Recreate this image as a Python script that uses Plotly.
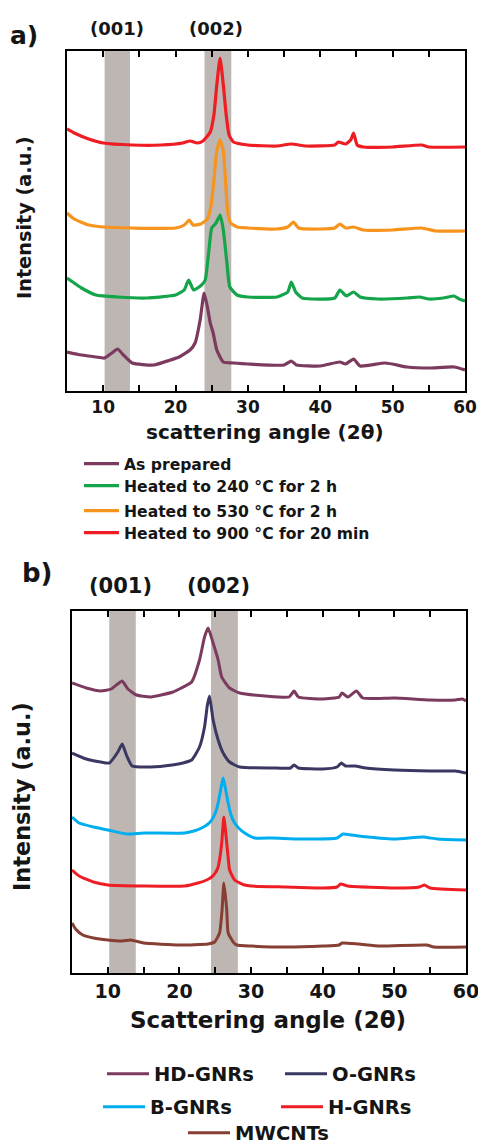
import plotly.graph_objects as go

# ---------------- data: panel a ----------------
a_names = ["As prepared", "Heated to 240 °C for 2 h", "Heated to 530 °C for 2 h", "Heated to 900 °C for 20 min"]
a_colors = ["#7B3A5E", "#14A54B", "#F7941E", "#EE1D23"]

a_prep_x = [5, 7, 9, 10.2, 11.2, 12, 12.8, 14, 17, 19.3, 20.5, 22.0, 22.7, 23.4, 23.95, 24.4, 24.8, 25.2, 25.7, 26.6, 28, 30, 35, 36, 36.7, 40, 42.7, 43.5, 44.6, 45.5, 49, 52, 55, 58.5, 60]
a_prep_y = [39, 36, 34, 33, 38, 42, 36, 28, 26, 31, 34, 41, 48, 71, 98, 84, 68, 58, 41, 29, 28, 27, 26, 30, 26, 25, 29, 27, 32, 25, 28, 24, 23, 24, 21]

a_240_x = [5, 6, 7, 9, 12, 16, 20, 21.2, 21.8, 22.5, 23.6, 24.1, 24.6, 25.0, 25.6, 26.16, 26.6, 27.1, 27.5, 28.5, 30, 34, 35.5, 36, 36.6, 37.5, 42, 42.7, 43.6, 44.6, 45.5, 48, 52, 53.7, 55, 57, 58.5, 59.2, 60]
a_240_y = [113, 108, 103, 96, 94, 93, 96, 101, 111, 101, 106, 111, 140, 163, 168, 176, 161, 128, 104, 96, 94, 94, 99, 109, 99, 93, 93, 101, 95, 99, 94, 92, 93, 94, 92, 93, 95, 92, 90]

a_530_x = [5, 6, 8, 10, 14, 20, 21.2, 21.9, 22.4, 23.5, 24.4, 24.9, 25.3, 25.7, 26.15, 26.6, 26.9, 27.2, 27.6, 28.5, 30, 34, 35.5, 36.3, 37, 40, 42, 42.7, 43.5, 44.6, 46, 50, 54, 56, 60]
a_530_y = [178, 172, 166, 164, 163, 163, 166, 171, 166, 167, 172, 185, 211, 240, 251, 240, 211, 180, 168, 164, 163, 162, 164, 169, 163, 162, 163, 167, 163, 164, 161, 161, 163, 160, 160]

a_900_x = [5, 6, 8, 10, 14, 18, 21, 22, 23, 23.8, 24.8, 25.3, 25.7, 26.15, 26.6, 27.0, 27.4, 28, 30, 34, 36, 38, 42, 42.5, 43.5, 44.2, 44.6, 45.1, 46, 50, 54, 55, 60]
a_900_y = [262, 258, 252, 248, 246, 246, 248, 250, 248, 250, 259, 276, 306, 333, 306, 276, 256, 249, 246, 245, 247, 245, 246, 249, 247, 251, 258, 246, 244, 244, 246, 244, 244]

# ---------------- data: panel b ----------------
b_names = ["HD-GNRs", "O-GNRs", "B-GNRs", "H-GNRs", "MWCNTs"]
b_colors = ["#7B3A5E", "#3A3862", "#00AEEF", "#EE1D23", "#873E33"]

b_hd_x = [5, 7, 9, 10.5, 11.2, 12, 12.8, 14, 16, 19.1, 20.25, 21.7, 22.8, 23.5, 24.0, 24.7, 25.4, 25.9, 27.0, 28.4, 32, 35.3, 36.0, 36.6, 40, 42.3, 42.7, 43.5, 44.7, 45.6, 50, 55, 58.5, 59.5, 60]
b_hd_y = [290, 285, 282, 284, 288, 292, 284, 278, 276, 281, 285, 291, 313, 336, 345, 330, 313, 296, 285, 280, 277, 276, 282, 276, 274, 276, 280, 276, 282, 275, 275, 273, 273, 274, 272]

b_o_x = [5, 7, 9, 10.2, 11.4, 12, 12.6, 13.4, 16, 19, 20.5, 21.7, 22.8, 23.5, 23.9, 24.2, 24.7, 25.4, 26.1, 27.0, 28.4, 33, 35.5, 36.0, 36.6, 40, 42.0, 42.6, 43.2, 44.5, 46, 50, 55, 58.5, 60]
b_o_y = [220, 214, 211, 210, 221, 229, 218, 207, 206, 208, 210, 213, 226, 246, 268, 277, 253, 233, 220, 211, 206, 205, 205, 208, 205, 204, 206, 210, 207, 207, 205, 203, 202, 202, 200]

b_b_x = [5, 6, 8, 10, 12.6, 15, 20.7, 22, 23.1, 24.0, 24.5, 25.0, 25.4, 25.8, 26.1, 26.4, 26.8, 27.2, 27.7, 28.4, 29.1, 30.5, 33, 36.9, 42.0, 42.8, 44, 45, 50, 54, 56, 60]
b_b_y = [156, 150, 146, 143, 139, 140, 140, 142, 145, 149, 153, 160, 170, 185, 195, 185, 170, 158, 150, 144, 140, 135, 135, 134, 135, 139, 138, 137, 134, 136, 134, 133]

b_h_x = [5, 6, 8, 10, 15, 20.7, 22.6, 23.8, 24.5, 25.0, 25.4, 25.7, 25.9, 26.2, 26.6, 26.8, 27.0, 27.7, 29.1, 30, 35, 40, 42.0, 42.5, 43.5, 50, 53.5, 54.2, 55, 60]
b_h_y = [103, 97, 91, 88, 87, 87, 90, 93, 96, 100, 106, 118, 130, 156, 130, 115, 103, 93, 88, 87, 86, 85, 86, 89, 87, 85, 86, 88, 85, 83]

b_mw_x = [5, 5.5, 6.5, 8, 10, 12, 13.2, 15, 20, 24, 24.9, 25.6, 25.95, 26.2, 26.6, 26.8, 27.5, 28, 30, 35, 40, 42.3, 42.7, 45, 48, 54.5, 55.5, 60]
b_mw_y = [50, 44, 38, 35, 33, 32, 33, 30, 28, 29, 31, 40, 63, 90, 63, 40, 31, 28, 27, 26, 27, 28, 30, 29, 27, 28, 26, 26]

# reflection bands (2theta ranges)
a_bands = [(10.2, 13.7), (24.0, 27.7)]
b_bands = [(10.2, 13.9), (24.4, 28.15)]
band_labels = ["(001)", "(002)"]

x_ticks = [10, 20, 30, 40, 50, 60]

W, H = 478, 1148
FONT = "DejaVu Sans, Liberation Sans, sans-serif"
INK = "#151515"


def px(v):
    return v / W


def py(v):
    return 1 - v / H


fig = go.Figure()

a_series = [(a_prep_x, a_prep_y), (a_240_x, a_240_y), (a_530_x, a_530_y), (a_900_x, a_900_y)]
a_legends = ["legend", "legend2", "legend3", "legend4"]
for (xs, ys), name, col, lg in zip(a_series, a_names, a_colors, a_legends):
    fig.add_trace(go.Scatter(x=xs, y=ys, mode="lines", name=name, xaxis="x", yaxis="y",
                             line=dict(color=col, width=3.2, shape="spline", smoothing=0.5),
                             legend=lg, hoverinfo="skip"))

b_series = [(b_hd_x, b_hd_y), (b_o_x, b_o_y), (b_b_x, b_b_y), (b_h_x, b_h_y), (b_mw_x, b_mw_y)]
b_legends = ["legend5", "legend5", "legend6", "legend6", "legend7"]
for (xs, ys), name, col, lg in zip(b_series, b_names, b_colors, b_legends):
    fig.add_trace(go.Scatter(x=xs, y=ys, mode="lines", name=name, xaxis="x2", yaxis="y2",
                             line=dict(color=col, width=3, shape="spline", smoothing=0.5),
                             legend=lg, hoverinfo="skip"))

shapes = []
for lo, hi in a_bands:
    shapes.append(dict(type="rect", xref="x", yref="y domain", x0=lo, x1=hi, y0=0, y1=1,
                       fillcolor="#BDB6B2", line=dict(width=0), layer="below"))
for lo, hi in b_bands:
    shapes.append(dict(type="rect", xref="x2", yref="y2 domain", x0=lo, x1=hi, y0=0, y1=1,
                       fillcolor="#BDB6B2", line=dict(width=0), layer="below"))

axis_common = dict(showline=True, linecolor="black", linewidth=2, mirror="ticks",
                   ticks="inside", ticklen=6, tickwidth=2, tickcolor="black",
                   showgrid=False, zeroline=False, range=[5, 60], tickvals=x_ticks,
                   ticklabeloverflow="allow", automargin=False,
                   minor=dict(dtick=5, tick0=0, ticks="inside", ticklen=6, tickwidth=2,
                              tickcolor="black", showgrid=False))
yaxis_common = dict(showline=True, linecolor="black", linewidth=2, mirror=True,
                    ticks="", showticklabels=False, showgrid=False, zeroline=False,
                    automargin=False)

fig.update_layout(
    width=W, height=H, autosize=False,
    margin=dict(l=0, r=0, t=0, b=0, autoexpand=False),
    paper_bgcolor="white", plot_bgcolor="white",
    showlegend=True,
    font=dict(family=FONT, color=INK),
    xaxis=dict(domain=[px(67), px(465)], anchor="y",
               tickfont=dict(size=17, family=FONT, weight="bold", color=INK), **axis_common),
    yaxis=dict(domain=[py(391), py(51)], anchor="x", range=[0, 340], **yaxis_common),
    xaxis2=dict(domain=[px(72), px(466)], anchor="y2",
                tickfont=dict(size=19, family=FONT, weight="bold", color=INK), **axis_common),
    yaxis2=dict(domain=[py(973), py(611)], anchor="x2", range=[0, 362], **yaxis_common),
    shapes=shapes,
)

leg_font_a = dict(size=15.6, family=FONT, weight="bold", color=INK)
leg_font_b = dict(size=19.5, family=FONT, weight="bold", color=INK)
a_rows = [464, 486, 511, 533]
for lg, yc in zip(a_legends, a_rows):
    fig.update_layout({lg: dict(x=px(79), y=py(yc), xanchor="left", yanchor="middle",
                                 orientation="h", font=leg_font_a, itemwidth=35,
                                 bgcolor="rgba(0,0,0,0)", borderwidth=0)})
fig.update_layout(
    legend5=dict(x=px(102), y=py(1074), xanchor="left", yanchor="middle", orientation="h",
                 font=leg_font_b, entrywidth=121, entrywidthmode="pixels", itemwidth=42,
                 bgcolor="rgba(0,0,0,0)", borderwidth=0),
    legend6=dict(x=px(98), y=py(1107), xanchor="left", yanchor="middle", orientation="h",
                 font=leg_font_b, entrywidth=121, entrywidthmode="pixels", itemwidth=42,
                 bgcolor="rgba(0,0,0,0)", borderwidth=0),
    legend7=dict(x=px(183), y=py(1133), xanchor="left", yanchor="middle", orientation="h",
                 font=leg_font_b, itemwidth=42, bgcolor="rgba(0,0,0,0)", borderwidth=0),
)

ann = []


def label(text, x, y, size, angle=0):
    ann.append(dict(text=text, x=px(x), y=py(y), xref="paper", yref="paper",
                    xanchor="center", yanchor="middle", showarrow=False, textangle=angle,
                    font=dict(size=size, family=FONT, weight="bold", color=INK)))


label("a)", 24, 35, 25)
label(band_labels[0], 117, 29, 18)
label(band_labels[1], 216, 29, 18)
label("scattering angle (2θ)", 265, 432, 20)
label("Intensity (a.u.)", 24, 218, 19.3, -90)

label("b)", 37, 573, 26)
label(band_labels[0], 120, 586, 21)
label(band_labels[1], 218, 586, 21)
label("Scattering angle (2θ)", 268, 1020, 23)
label("Intensity (a.u.)", 22, 797, 22.4, -90)

fig.update_layout(annotations=ann)

# remove the browser's default 8px body margin so the figure sits at the page origin
fig.write_html("out.html", config={"displayModeBar": False},
               post_script="document.body.style.margin='0';")
